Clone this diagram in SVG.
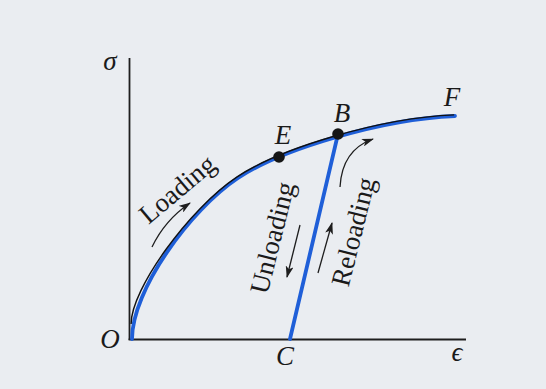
<svg xmlns="http://www.w3.org/2000/svg" width="546" height="389" viewBox="0 0 546 389">
  <defs>
    <marker id="ah" viewBox="0 0 12 8" refX="11" refY="4" markerWidth="12" markerHeight="8" markerUnits="userSpaceOnUse" orient="auto">
      <path d="M0,0 L12,4 L0,8 L3,4 z" fill="#1e1e1e"/>
    </marker>
    <style>
      .axis{stroke:#1e1e1e;stroke-width:1.8;fill:none}
      .blue{stroke:#1f5fd8;stroke-width:3.8;fill:none;stroke-linecap:round}
      .edge{stroke:#111;stroke-width:1.4;fill:none}
      .arr{stroke:#1e1e1e;stroke-width:1.3;fill:none;marker-end:url(#ah)}
      .lbl{font-family:"Liberation Serif","DejaVu Serif",serif;font-style:italic;font-size:27px;fill:#1a1a1a}
      .word{font-family:"Liberation Serif","DejaVu Serif",serif;font-size:27px;fill:#1a1a1a}
      .dot{fill:#151515}
    </style>
  </defs>
  <rect width="546" height="389" fill="#eaedf1"/>

  <g id="axes">
    <line class="axis" x1="129.5" y1="58" x2="129.5" y2="340"/>
    <line class="axis" x1="128.6" y1="339.5" x2="466" y2="339.5"/>
    <text class="lbl" x="110" y="70" text-anchor="middle">σ</text>
    <text class="lbl" x="457" y="361" text-anchor="middle">ϵ</text>
  </g>

  <g id="connectors">
    <path class="blue" d="M132,339 C132,290 190,210 238,178 C280,150 380,119 455,116"/>
    <path class="edge" transform="translate(-0.9,-1.1)" d="M132,325 C132,290 190,210 238,178 C280,150 380,119 455,116"/>
    <line class="blue" x1="338" y1="134" x2="290" y2="339"/>
    <path class="arr" d="M152,247 Q165,220 190,203"/>
    <line class="arr" x1="300" y1="225" x2="287" y2="277"/>
    <line class="arr" x1="318" y1="273" x2="332" y2="223"/>
    <path class="arr" d="M340,187 Q342,150 373,139"/>
  </g>

  <g id="node-O"><text class="lbl" x="110" y="348" text-anchor="middle">O</text></g>
  <g id="node-C"><text class="lbl" x="285" y="365" text-anchor="middle">C</text></g>
  <g id="node-E">
    <circle class="dot" cx="279" cy="157" r="5.8"/>
    <text class="lbl" x="283" y="144" text-anchor="middle">E</text>
  </g>
  <g id="node-B">
    <circle class="dot" cx="338" cy="134" r="5.8"/>
    <text class="lbl" x="342" y="122" text-anchor="middle">B</text>
  </g>
  <g id="node-F"><text class="lbl" x="452" y="106" text-anchor="middle">F</text></g>

  <g id="labels">
    <text class="word" text-anchor="middle" transform="translate(183,196) rotate(-40)">Loading</text>
    <text class="word" text-anchor="middle" transform="translate(281,240) rotate(-76)">Unloading</text>
    <text class="word" text-anchor="middle" transform="translate(362,234) rotate(-76)">Reloading</text>
  </g>
</svg>
